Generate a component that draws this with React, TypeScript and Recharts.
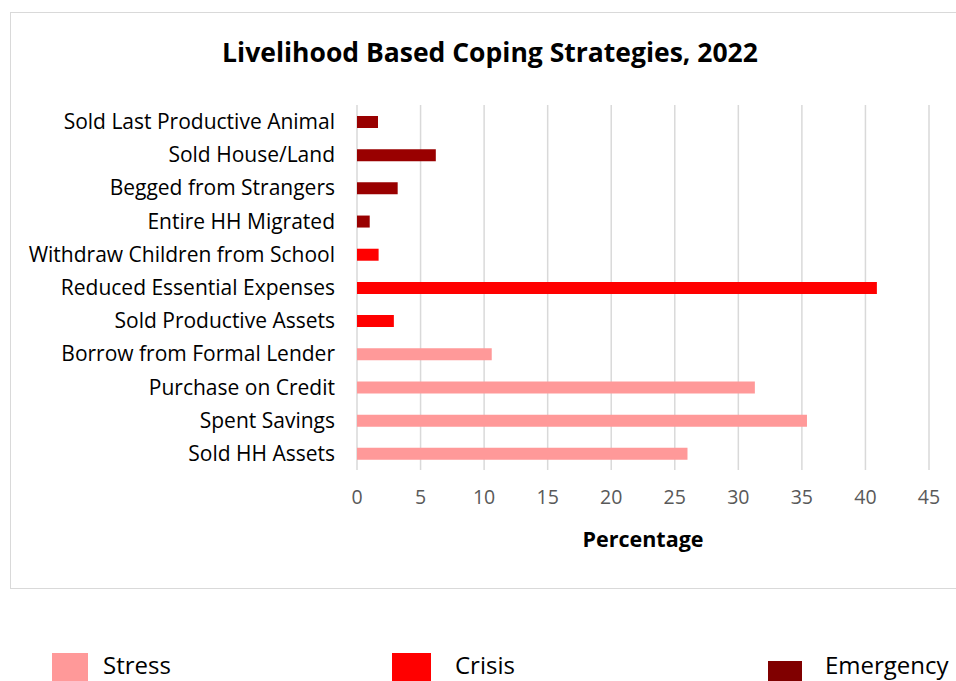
import React from "react";
import { BarChart, Bar, XAxis, YAxis, CartesianGrid } from "recharts";

const categories = [
  "Sold Last Productive Animal",
  "Sold House/Land",
  "Begged from Strangers",
  "Entire HH Migrated",
  "Withdraw Children from School",
  "Reduced Essential Expenses",
  "Sold Productive Assets",
  "Borrow from Formal Lender ",
  "Purchase on Credit",
  "Spent Savings",
  "Sold HH Assets",
];
const stress = [null, null, null, null, null, null, null, 10.6, 31.3, 35.4, 26.0];
const crisis = [null, null, null, null, 1.7, 40.9, 2.9, null, null, null, null];
const emergency = [1.65, 6.2, 3.2, 1.0, null, null, null, null, null, null, null];
const xTicks = [0, 5, 10, 15, 20, 25, 30, 35, 40, 45];

const COLORS = { stress: "#FF9999", crisis: "#FF0000", emergency: "#990000" };
const FONT = "'Open Sans', Lato, sans-serif";

const data = categories.map((c, i) => ({
  name: c,
  stress: stress[i],
  crisis: crisis[i],
  emergency: emergency[i],
}));

const legendItems = [
  { label: "Stress", color: "#FF9999", x: 52, sq: 36, top: 653, tx: 103 },
  { label: "Crisis", color: "#FF0000", x: 392, sq: 39, top: 653, tx: 455 },
  { label: "Emergency", color: "#800000", x: 768, sq: 34, top: 661, tx: 825 },
];

export default function App() {
  return (
    <div style={{ position: "fixed", left: 0, top: 0, width: 956, height: 681, overflow: "hidden", background: "#fff", fontFamily: FONT }}>
      <div style={{ position: "absolute", left: 10, top: 12, width: 960, height: 577, border: "1.5px solid #d9d9d9", boxSizing: "border-box" }} />
      <div style={{ position: "absolute", left: 0, width: 980, top: 34, textAlign: "center", fontWeight: 700, fontSize: 26.5, color: "#000" }}>
        Livelihood Based Coping Strategies, 2022
      </div>
      <div style={{ position: "absolute", left: 0, top: 0 }}>
        <BarChart
          width={956}
          height={681}
          data={data}
          layout="vertical"
          margin={{ top: 105, right: 27, bottom: 181, left: 0 }}
          barCategoryGap="32%"
        >
          <CartesianGrid horizontal={false} stroke="#d9d9d9" strokeWidth={1.5} />
          <XAxis
            type="number"
            domain={[0, 45]}
            ticks={xTicks}
            height={30}
            axisLine={false}
            tickLine={false}
            tickSize={0}
            tickMargin={20}
            tick={{ fontSize: 19.5, fill: "#595959", fontFamily: FONT }}
            label={{ value: "Percentage", position: "bottom", offset: 32, style: { fontSize: 21.5, fontWeight: 700, fill: "#000", fontFamily: FONT } }}
          />
          <YAxis
            type="category"
            dataKey="name"
            width={357}
            axisLine={false}
            tickLine={false}
            tickSize={0}
            tickMargin={22}
            interval={0}
            tick={{ fontSize: 21, fill: "#000", fontFamily: FONT }}
          />
          <Bar dataKey="stress" stackId="a" fill={COLORS.stress} barSize={12} isAnimationActive={false} />
          <Bar dataKey="crisis" stackId="a" fill={COLORS.crisis} barSize={12} isAnimationActive={false} />
          <Bar dataKey="emergency" stackId="a" fill={COLORS.emergency} barSize={12} isAnimationActive={false} />
        </BarChart>
      </div>
      {legendItems.map((l) => (
        <React.Fragment key={l.label}>
          <div style={{ position: "absolute", left: l.x, top: l.top, width: l.sq, height: 28, background: l.color }} />
          <div style={{ position: "absolute", left: l.tx, top: 650, fontSize: 24, color: "#000", lineHeight: "30px" }}>{l.label}</div>
        </React.Fragment>
      ))}
    </div>
  );
}
